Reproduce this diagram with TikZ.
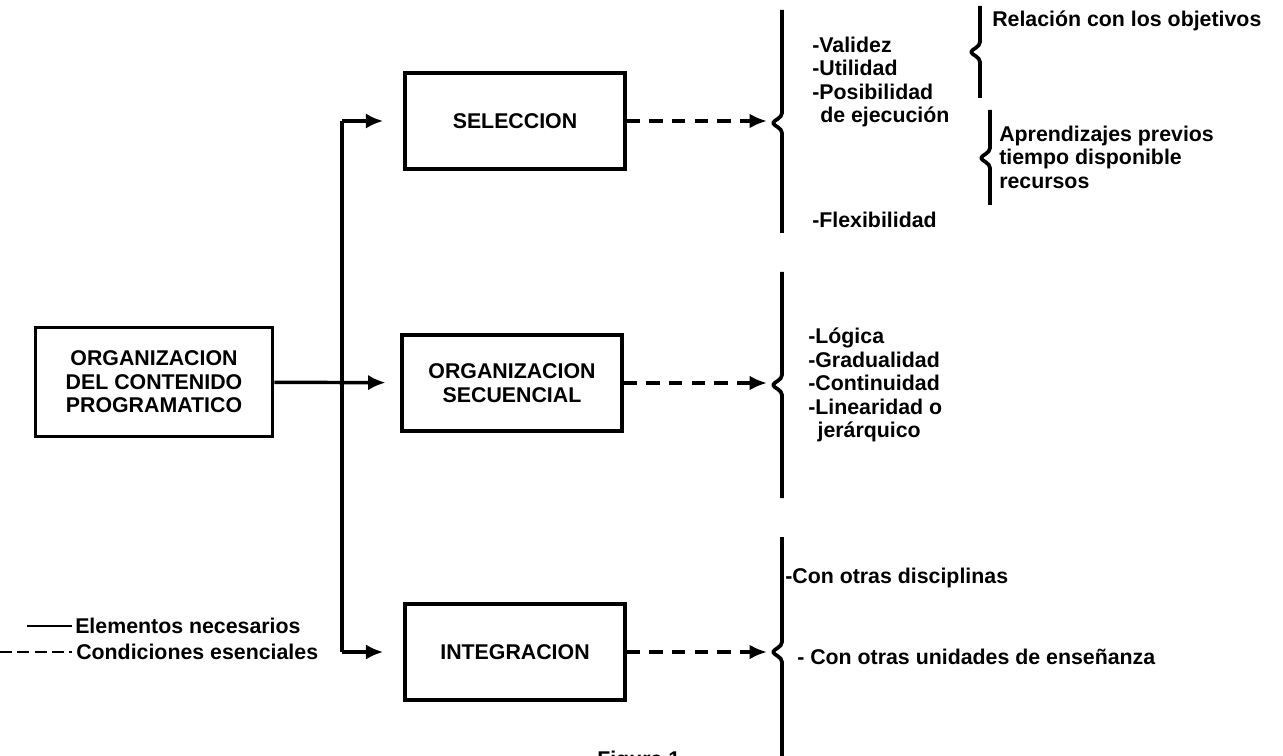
\documentclass[tikz,border=0pt]{standalone}
\usepackage{fontspec}
\setmainfont{Liberation Sans}
\usetikzlibrary{arrows.meta}
\begin{document}
\begin{tikzpicture}[x=0.75pt,y=-0.75pt,
  every node/.style={font=\fontsize{16}{17.6}\selectfont\bfseries, inner sep=0pt},
  stagebox/.style={draw, line width=2.7pt, minimum width=165pt, minimum height=72pt, align=center},
  solidarrow/.style={line width=2.6pt, -{Latex[length=13pt,width=11.5pt]}},
  dasharrow/.style={line width=2.4pt, dash pattern=on 10pt off 7pt, -{Latex[length=13pt,width=11pt]}},
  brace/.style={line width=2.8pt, line join=round},
  listtext/.style={anchor=west, align=left}]
\useasboundingbox (0,0) rectangle (1283,756);
\clip (0,0) rectangle (1283,756);

% main boxes
\node[stagebox, minimum width=178pt, minimum height=82pt] (org) at (154,382)
  {ORGANIZACION\\DEL CONTENIDO\\PROGRAMATICO};
\node[stagebox] (sel) at (515,121) {SELECCION};
\node[stagebox] (seq) at (512,383) {ORGANIZACION\\SECUENCIAL};
\node[stagebox] (int) at (515,652) {INTEGRACION};

% trunk splitting into the three stages
\coordinate (ttop) at (342,121);
\coordinate (tbot) at (342,652);
\draw[line width=2.6pt] (ttop) -- (tbot);
\draw[solidarrow, shorten >=15pt] (ttop) -- (sel);
\draw[solidarrow, shorten >=11pt] (org) -- (seq);
\draw[solidarrow, shorten >=15pt] (tbot) -- (int);

% braces (cusp coordinates b1, b2, b3)
\coordinate (b1) at (773,123);
\coordinate (b2) at (773,385);
\coordinate (b3) at (773,652);
\foreach \b/\t/\u in {b1/10/233, b2/272/498, b3/537/760}{
  \draw[brace] (782,\t) -- ([shift={(9,-10)}]\b)
    .. controls ([shift={(9,-5)}]\b) and ([shift={(1,-3)}]\b) .. (\b)
    .. controls ([shift={(1,3)}]\b) and ([shift={(9,5)}]\b) .. ([shift={(9,10)}]\b)
    -- (782,\u);
}

% dashed links to the conditions
\draw[dasharrow, shorten >=4.5pt] (sel) -- (sel.east -| b1);
\draw[dasharrow, shorten >=4.5pt] (seq) -- (seq.east -| b2);
\draw[dasharrow, shorten >=4.5pt] (int) -- (int.east -| b3);

% sub-braces of the first group
\coordinate (s1) at (971,52);
\coordinate (s2) at (981,158);
\draw[brace] (980,6) -- ([shift={(9,-10)}]s1)
  .. controls ([shift={(9,-5)}]s1) and ([shift={(1,-3)}]s1) .. (s1)
  .. controls ([shift={(1,3)}]s1) and ([shift={(9,5)}]s1) .. ([shift={(9,10)}]s1)
  -- (980,98);
\draw[brace] (990,110) -- ([shift={(9,-10)}]s2)
  .. controls ([shift={(9,-5)}]s2) and ([shift={(1,-3)}]s2) .. (s2)
  .. controls ([shift={(1,3)}]s2) and ([shift={(9,5)}]s2) .. ([shift={(9,10)}]s2)
  -- (990,205);

% conditions of the selection
\node[listtext] (sellist) at (812,82)
  {-Validez\\-Utilidad\\-Posibilidad\\\hspace*{6pt}de ejecución};
\node[listtext] (flex) at (812,220) {-Flexibilidad};
\node[listtext] (obj) at (992,21) {Relación con los objetivos};
\node[listtext] (prev) at (999,157) {Aprendizajes previos\\tiempo disponible\\recursos};

% conditions of the sequence
\node[listtext] (seqlist) at (808,385)
  {-Lógica\\-Gradualidad\\-Continuidad\\-Linearidad o\\\hspace*{7pt}jerárquico};

% conditions of the integration
\node[listtext] (disc) at (785,578) {-Con otras disciplinas};
\node[listtext] (units) at (797,657) {- Con otras unidades de enseñanza};

% legend
\coordinate (l1a) at (27,626);
\coordinate (l1b) at (72,626);
\coordinate (l2a) at (0,652);
\coordinate (l2b) at (72,652);
\draw[line width=2.2pt] (l1a) -- (l1b);
\draw[line width=2.2pt, dash pattern=on 9pt off 4pt] (l2a) -- (l2b);
\node[anchor=west] (leg1) at (75,626) {Elementos necesarios};
\node[anchor=west] (leg2) at (76,652) {Condiciones esenciales};

% caption, cut by the lower edge
\node[anchor=base west] (cap) at (597,766) {Figura 1};
\end{tikzpicture}
\end{document}
